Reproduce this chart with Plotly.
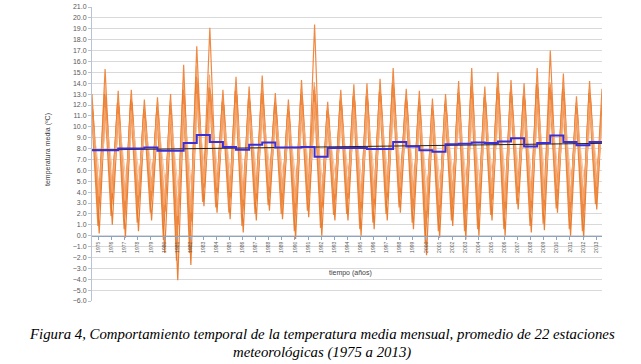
import plotly.graph_objects as go

years = list(range(1975, 2014))

# Annual mean of the 22 stations (blue step line)
annual_mean = [7.85, 7.85, 8.0, 8.0, 8.1, 7.8, 7.8, 8.5, 9.25, 8.6,
               8.15, 7.9, 8.35, 8.55, 8.1, 8.1, 8.15, 7.25, 8.05, 8.05,
               8.05, 7.95, 7.95, 8.6, 8.2, 7.85, 7.7, 8.4, 8.45, 8.55,
               8.5, 8.65, 8.95, 8.2, 8.5, 9.2, 8.6, 8.3, 8.6]

# Linear trend (black line) endpoints
trend_years = [1975.0, 2013.95]
trend_vals = [7.87, 8.48]

# Station series: summer peak and winter trough per year
st1_peak = [13.0, 15.3, 13.3, 13.4, 12.5, 12.7, 13.0, 15.7, 17.4, 19.1, 13.4, 14.6, 13.7, 14.7, 13.1, 12.5, 14.3, 19.4, 12.3, 13.4,
            13.9, 14.0, 14.4, 15.4, 13.5, 13.3, 12.6, 13.0, 14.2, 15.4, 13.7, 15.0, 14.3, 14.0, 15.4, 17.0, 14.9, 12.8, 14.2]
st1_trough = [2.4, 2.9, 1.9, 2.6, 3.2, 1.3, 0.2, 0.3, 4.0, 3.5, 3.1, 2.2, 3.0, 3.6, 3.0, 1.8, 3.3, 2.0, 2.9, 3.0,
              1.9, 2.4, 3.0, 3.5, 2.4, 1.0, 1.6, 2.5, 1.7, 1.9, 2.9, 1.9, 3.6, 2.1, 2.3, 3.4, 1.9, 1.7, 3.6]
st2_peak = [11.6, 12.7, 11.9, 12.3, 11.4, 11.1, 11.3, 12.9, 14.1, 13.3, 12.1, 13.0, 12.4, 12.9, 12.0, 11.4, 12.8, 13.0, 11.3, 12.2,
            12.5, 12.6, 13.0, 13.6, 12.4, 12.0, 11.5, 11.9, 12.9, 13.4, 12.5, 13.3, 13.0, 12.6, 13.6, 13.4, 13.2, 11.7, 12.9]
st2_trough = [0.2, 1.0, -0.2, 0.4, 1.4, -1.6, -4.1, -2.7, 2.7, 2.1, 1.5, 0.3, 1.4, 2.3, 1.5, -0.3, 1.7, 0.0, 1.4, 1.4,
              0.0, 0.6, 1.4, 2.1, 0.6, -1.8, -0.2, 0.9, -0.35, 0.0, 1.4, 0.0, 2.4, 0.3, 0.5, 2.1, 0.0, -0.2, 2.4]
st3_peak = [12.1, 13.8, 12.6, 12.9, 11.8, 12.0, 12.4, 14.2, 15.6, 14.8, 12.7, 13.9, 12.9, 13.8, 12.5, 11.9, 13.5, 14.1, 11.8, 12.8,
            13.1, 13.2, 13.6, 14.5, 12.9, 12.6, 12.0, 12.4, 13.5, 14.3, 13.0, 14.2, 13.6, 13.3, 14.5, 14.1, 14.1, 12.2, 13.5]
st3_trough = [1.8, 2.6, 1.2, 2.0, 2.8, 0.5, -1.2, -0.8, 3.6, 3.1, 2.7, 1.6, 2.6, 3.2, 2.6, 1.1, 2.9, 1.4, 2.5, 2.6,
              1.3, 1.8, 2.6, 3.1, 1.9, 0.2, 1.0, 2.0, 1.1, 1.3, 2.5, 1.3, 3.3, 1.5, 1.7, 3.0, 1.3, 1.1, 3.3]
st4_peak = [11.4, 12.3, 11.8, 12.1, 11.2, 11.5, 11.6, 12.8, 13.9, 13.0, 12.0, 12.9, 12.2, 12.6, 11.8, 11.3, 12.6, 12.9, 11.2, 12.0,
            12.4, 12.3, 12.8, 13.4, 12.2, 11.9, 11.4, 11.8, 12.7, 13.2, 12.3, 13.1, 12.8, 12.4, 13.3, 13.2, 13.0, 11.6, 12.7]
st4_trough = [3.0, 3.4, 2.5, 3.1, 3.6, 2.2, 1.0, 1.3, 4.4, 3.9, 3.5, 2.7, 3.4, 4.0, 3.4, 2.4, 3.7, 2.6, 3.3, 3.4,
              2.5, 2.9, 3.5, 3.9, 2.9, 1.6, 2.2, 3.0, 2.3, 2.4, 3.3, 2.5, 4.0, 2.6, 2.8, 3.8, 2.5, 2.3, 4.0]
st5_peak = [10.6, 11.3, 10.9, 11.2, 10.5, 10.8, 10.7, 11.6, 12.5, 11.9, 11.1, 11.8, 11.3, 11.7, 10.9, 10.6, 11.6, 11.8, 10.5, 11.1,
            11.4, 11.5, 11.9, 12.2, 11.3, 11.0, 10.7, 11.0, 11.7, 12.1, 11.4, 12.0, 11.8, 11.5, 12.2, 12.1, 11.9, 10.9, 11.8]
st5_trough = [4.2, 4.5, 3.8, 4.3, 4.7, 3.5, 2.6, 2.9, 5.3, 4.9, 4.5, 3.9, 4.4, 5.0, 4.4, 3.6, 4.7, 3.7, 4.3, 4.4,
              3.7, 4.0, 4.5, 4.9, 4.0, 3.0, 3.4, 4.1, 3.5, 3.6, 4.3, 3.7, 5.0, 3.8, 3.9, 4.8, 3.7, 3.5, 5.0]
st6_peak = [11.9, 13.0, 12.2, 12.5, 11.6, 11.8, 12.0, 13.4, 14.6, 13.6, 12.3, 13.3, 12.6, 13.1, 12.2, 11.6, 13.0, 13.4, 11.5, 12.4,
            12.8, 12.8, 13.2, 13.9, 12.6, 12.3, 11.7, 12.1, 13.1, 13.7, 12.7, 13.6, 13.2, 12.8, 13.9, 13.6, 13.5, 11.9, 13.1]
st6_trough = [0.9, 1.8, 0.6, 1.2, 2.1, -0.4, -2.3, -1.6, 3.1, 2.6, 2.1, 0.9, 2.0, 2.8, 2.0, 0.4, 2.3, 0.7, 1.9, 2.0,
              0.6, 1.2, 2.0, 2.6, 1.2, -0.7, 0.4, 1.4, 0.4, 0.6, 1.9, 0.6, 2.9, 0.9, 1.1, 2.5, 0.6, 0.4, 2.9]
st7_peak = [10.0, 10.6, 10.3, 10.5, 9.9, 10.2, 10.1, 10.9, 11.6, 11.1, 10.4, 11.0, 10.6, 11.0, 10.3, 10.0, 10.9, 11.0, 9.9, 10.4,
            10.7, 10.8, 11.1, 11.4, 10.6, 10.3, 10.1, 10.4, 10.9, 11.3, 10.7, 11.2, 11.0, 10.8, 11.4, 11.3, 11.1, 10.3, 11.0]
st7_trough = [5.3, 5.5, 4.9, 5.4, 5.7, 4.7, 3.9, 4.2, 6.1, 5.8, 5.5, 5.0, 5.4, 5.9, 5.4, 4.8, 5.6, 4.8, 5.3, 5.4,
              4.8, 5.1, 5.5, 5.8, 5.1, 4.3, 4.6, 5.2, 4.7, 4.8, 5.3, 4.9, 5.9, 5.0, 5.1, 5.7, 4.9, 4.7, 5.9]
st8_peak = [12.4, 12.9, 12.5, 12.0, 11.9, 12.3, 12.2, 13.1, 14.5, 13.5, 12.6, 13.4, 12.9, 13.4, 12.3, 12.0, 13.2, 13.7, 11.7, 12.6,
            13.0, 13.1, 13.4, 14.1, 12.8, 12.6, 12.1, 12.6, 13.2, 14.0, 12.9, 13.8, 13.4, 13.0, 14.0, 13.9, 13.7, 12.3, 13.2]
st8_trough = [2.5, 3.6, 1.5, 2.4, 3.0, 1.6, -0.4, 0.5, 3.8, 3.0, 2.4, 2.0, 3.1, 3.4, 2.2, 1.5, 3.1, 2.2, 2.2, 2.8,
              1.6, 2.2, 3.2, 3.3, 2.2, 0.8, 1.6, 2.6, 1.4, 1.6, 2.7, 1.6, 3.4, 2.0, 2.1, 3.1, 1.5, 1.5, 3.2]
st9_peak = [10.9, 11.8, 11.2, 11.5, 10.8, 11.0, 11.1, 12.1, 13.0, 12.3, 11.5, 12.2, 11.7, 12.1, 11.2, 10.9, 12.0, 12.3, 10.8, 11.5,
            11.8, 11.9, 12.3, 12.7, 11.7, 11.4, 11.0, 11.4, 12.1, 12.6, 11.8, 12.5, 12.2, 11.9, 12.6, 12.5, 12.4, 11.2, 12.2]
st9_trough = [3.6, 3.9, 3.2, 3.7, 4.1, 2.8, 1.8, 2.1, 4.8, 4.4, 4.0, 3.3, 3.9, 4.5, 3.9, 3.0, 4.2, 3.1, 3.8, 3.9,
              3.1, 3.4, 4.0, 4.4, 3.4, 2.3, 2.8, 3.5, 2.9, 3.0, 3.8, 3.1, 4.5, 3.2, 3.3, 4.3, 3.1, 2.9, 4.5]
# December 2013 value of each station series
end_vals = [13.5, 11.2, 12.4, 11.6, 10.6, 12.0, 9.9, 12.2, 11.0]

stations = [(st1_peak, st1_trough), (st2_peak, st2_trough), (st3_peak, st3_trough),
            (st4_peak, st4_trough), (st5_peak, st5_trough), (st6_peak, st6_trough),
            (st7_peak, st7_trough), (st8_peak, st8_trough), (st9_peak, st9_trough)]

# timing (fraction of year) of each station's warmest / coldest month — styling of the x position
peak_time = [0.0, 0.04, -0.03, 0.07, 0.02, -0.05, 0.09, 0.01, -0.02]
trough_time = [0.5, 0.55, 0.47, 0.58, 0.52, 0.45, 0.61, 0.49, 0.54]

colors = ["rgba(237,125,49,0.9)", "rgba(232,114,30,0.9)", "rgba(242,150,85,0.8)",
          "rgba(237,125,49,0.75)", "rgba(244,177,131,0.85)", "rgba(230,115,30,0.8)",
          "rgba(246,190,150,0.85)", "rgba(240,140,70,0.8)", "rgba(245,170,115,0.8)"]

fig = go.Figure()

for (pk, tr), pt, tt, col, ev in zip(stations, peak_time, trough_time, colors, end_vals):
    xs, ys = [], []
    for yr, p, t in zip(years, pk, tr):
        xs += [yr + pt, yr + tt]
        ys += [p, t]
    xs.append(2013.95)
    ys.append(ev)
    fig.add_trace(go.Scatter(x=xs, y=ys, mode="lines",
                             line=dict(color=col, width=1.2), hoverinfo="skip"))

# Trend line
fig.add_trace(go.Scatter(x=trend_years, y=trend_vals, mode="lines",
                         line=dict(color="#222222", width=1)))

# Annual mean step line
bx = [y for y in years] + [2013.95]
by = annual_mean + [annual_mean[-1]]
fig.add_trace(go.Scatter(x=bx, y=by, mode="lines", line_shape="hv",
                         line=dict(color="#3a2fd6", width=2)))

fig.update_layout(
    width=641, height=364,
    margin=dict(l=92, r=39, t=7, b=63),
    paper_bgcolor="white", plot_bgcolor="white",
    showlegend=False,
    font=dict(family="Liberation Sans, Arial", color="#595959"),
    xaxis=dict(
        range=[1975, 2013.95],
        tickvals=[y + 0.5 for y in years],
        ticktext=[str(y) for y in years],
        tickangle=-90,
        tickfont=dict(size=5, color="#595959"),
        showgrid=False,
        zeroline=False,
        showline=True, linecolor="#8fa4c0", linewidth=1.2,
        ticks="outside", ticklen=3, tickcolor="#8fa4c0",
        anchor="free", position=6 / 27,
        automargin=False,
    ),
    yaxis=dict(
        range=[-6, 21],
        dtick=1, tick0=0,
        tickformat=".1f",
        tickfont=dict(size=7, color="#595959"),
        showgrid=True, gridcolor="#d9d9d9", gridwidth=1,
        zeroline=False,
        showline=True, linecolor="#b8c4d6", linewidth=1,
        ticks="outside", ticklen=3, tickcolor="#b8c4d6",
        automargin=False,
    ),
)

fig.add_annotation(text="temperatura media (ºC)", xref="paper", yref="paper",
                   x=(42 - 92) / 510, y=(301 - 150) / 294, textangle=-90,
                   showarrow=False, font=dict(size=7, color="#404040"))
fig.add_annotation(text="tiempo (años)", xref="paper", yref="y",
                   x=(350 - 92) / 510, y=-3.4,
                   showarrow=False, font=dict(size=7, color="#404040"))

cap_font = dict(family="Liberation Serif, Times New Roman, serif", size=14.8, color="#000000")
fig.add_annotation(text="<i>Figura 4, Comportamiento temporal de la temperatura media mensual, promedio de 22 estaciones</i>",
                   xref="paper", yref="paper", x=(322 - 92) / 510, y=(301 - 334) / 294,
                   xanchor="center", yanchor="middle", showarrow=False, font=cap_font)
fig.add_annotation(text="<i>meteorológicas (1975 a 2013)</i>",
                   xref="paper", yref="paper", x=(322 - 92) / 510, y=(301 - 352) / 294,
                   xanchor="center", yanchor="middle", showarrow=False, font=cap_font)

fig.write_html("out.html",
               config={"displayModeBar": False},
               post_script="document.body.style.margin='0';document.body.style.overflow='hidden';")
